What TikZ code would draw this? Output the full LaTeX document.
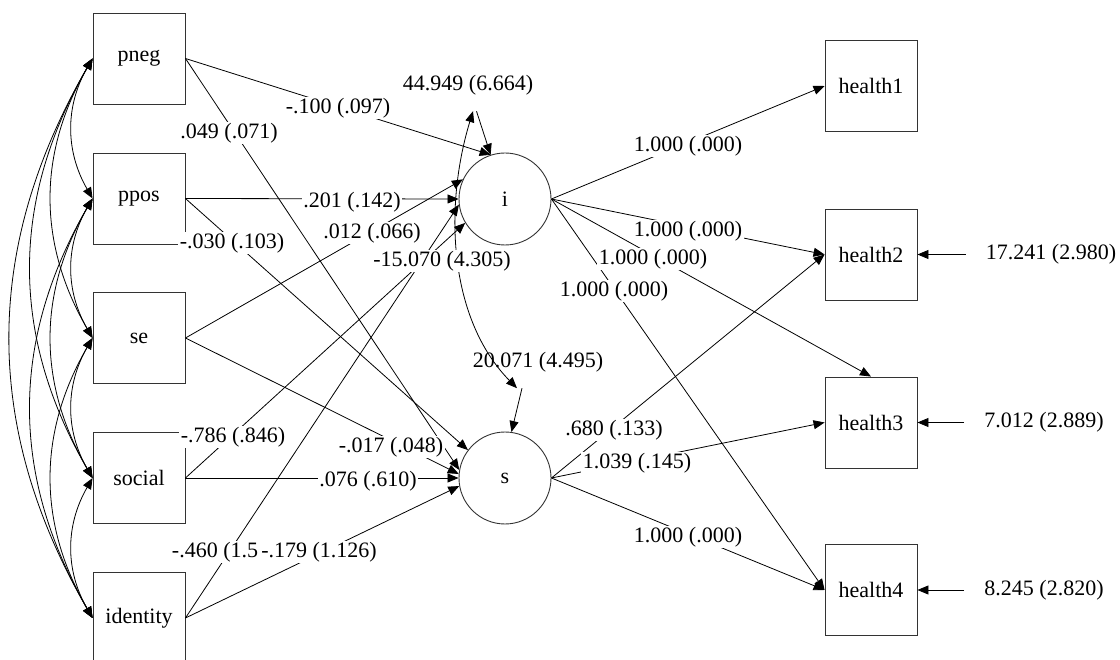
\documentclass[tikz,border=0pt]{standalone}
\usepackage{fontspec}
\setmainfont{Liberation Serif}
\usetikzlibrary{arrows.meta}
\begin{document}
\begin{tikzpicture}[x=1pt,y=-1pt,
  every node/.style={font=\fontsize{22}{26}\selectfont},
  obs/.style={draw=black!80,line width=0.9pt,minimum width=92pt,minimum height=91pt,inner sep=0pt},
  lat/.style={circle,draw=black!80,line width=0.9pt,minimum size=92pt,inner sep=0pt},
  lab/.style={fill=white,inner sep=1.5pt},
  vlab/.style={inner xsep=20pt,inner ysep=0pt,minimum height=52pt},
  pth/.style={line width=0.8pt,-{Triangle[length=11pt,width=9pt]}},
  cov/.style={line width=0.8pt,{Triangle[length=11pt,width=9pt]}-{Triangle[length=11pt,width=9pt]}}
]
\useasboundingbox (0,0) rectangle (1120,660);

% observed predictors
\node[obs] (pneg) at (139,58.5) {pneg};
\node[obs] (ppos) at (139,198.5) {ppos};
\node[obs] (se) at (139,338) {se};
\node[obs] (social) at (139,478) {social};
\node[obs] (identity) at (139,618) {identity};

% latent growth factors
\node[lat] (i) at (505,199) {i};
\node[lat] (s) at (505,478) {s};

% outcomes
\node[obs] (health1) at (871,86) {health1};
\node[obs] (health2) at (871,254.5) {health2};
\node[obs] (health3) at (871,422.5) {health3};
\node[obs] (health4) at (871,590) {health4};

% variance labels
\node[vlab] (vi) at (468,85) {44.949 (6.664)};
\node[vlab] (vs) at (538,362) {20.071 (4.495)};
\node[vlab] (r2) at (1051,254.5) {17.241 (2.980)};
\node[vlab] (r3) at (1044,422.5) {7.012 (2.889)};
\node[vlab] (r4) at (1044,590) {8.245 (2.820)};

% covariances among predictors
\draw[cov] (pneg.west) .. controls +(-27.4,47.5) and +(-27.4,-47.5) .. (ppos.west);
\draw[cov] (ppos.west) .. controls +(-27.4,47.5) and +(-27.4,-47.5) .. (se.west);
\draw[cov] (se.west) .. controls +(-27.4,47.5) and +(-27.4,-47.5) .. (social.west);
\draw[cov] (social.west) .. controls +(-27.4,47.5) and +(-27.4,-47.5) .. (identity.west);
\draw[cov] (pneg.west) .. controls +(-54.9,94.9) and +(-54.9,-94.9) .. (se.west);
\draw[cov] (ppos.west) .. controls +(-54.9,94.9) and +(-54.9,-94.9) .. (social.west);
\draw[cov] (se.west) .. controls +(-54.9,94.9) and +(-54.9,-94.9) .. (identity.west);
\draw[cov] (pneg.west) .. controls +(-82.3,142.4) and +(-82.3,-142.4) .. (social.west);
\draw[cov] (ppos.west) .. controls +(-82.3,142.4) and +(-82.3,-142.4) .. (identity.west);
\draw[cov] (pneg.west) .. controls +(-109.8,189.8) and +(-109.8,-189.8) .. (identity.west);

% regressions on i
\draw[pth] (pneg.east) -- (i.108);
\draw[pth] (ppos.east) -- (i.west);
\draw[pth] (se.east) -- (i.155);
\draw[pth] (social.east) -- (i.211);
\draw[pth] (identity.east) -- (i.187);
% regressions on s
\draw[pth] (pneg.east) -- (s.170);
\draw[pth] (ppos.east) -- (s.143);
\draw[pth] (se.east) -- (s.175);
\draw[pth] (social.east) -- (s.west);
\draw[pth] (identity.east) -- (s.190);

% variances of i and s, covariance
\draw[pth] (vi) -- (i.108);
\draw[pth] ([xshift=-16pt]vs.south) -- (s.82);
\draw[cov] ([xshift=5pt]vi.south) .. controls (443,210) and (450,320) .. ([xshift=-21pt]vs.south);

% loadings
\draw[pth] (i.east) -- (health1.west);
\draw[pth] (i.east) -- (health2.west);
\draw[pth] (i.east) -- (health3.north);
\draw[pth] (i.east) -- (health4.west);
\draw[pth] (s.east) -- (health2.west);
\draw[pth] (s.east) -- (health3.west);
\draw[pth] (s.east) -- (health4.west);

% residual variances
\draw[pth] (r2) -- (health2.east);
\draw[pth] (r3) -- (health3.east);
\draw[pth] (r4) -- (health4.east);

% labels
\node[lab] (l1) at (338,108) {-.100 (.097)};
\node[lab] (l2) at (229,133) {.049 (.071)};
\node[lab] (l3) at (352,202) {.201 (.142)};
\node[lab] (l4) at (232,243) {-.030 (.103)};
\node[lab] (l5) at (372,233) {.012 (.066)};
\node[lab] (l6) at (442,261) {-15.070 (4.305)};
\node[lab] (l7) at (233,437) {-.786 (.846)};
\node[lab] (l8) at (391,447) {-.017 (.048)};
\node[lab] (l9) at (368,481) {.076 (.610)};
\node[lab] (l10) at (215,552) {-.460 (1.5};
\node[lab] (l11) at (319,552) {-.179 (1.126)};
\node[lab] (l12) at (688,146) {1.000 (.000)};
\node[lab] (l13) at (688,231) {1.000 (.000)};
\node[lab] (l14) at (653,259) {1.000 (.000)};
\node[lab] (l15) at (614,291) {1.000 (.000)};
\node[lab] (l16) at (614,430) {.680 (.133)};
\node[lab] (l17) at (637,463) {1.039 (.145)};
\node[lab] (l18) at (688,537) {1.000 (.000)};
\end{tikzpicture}
\end{document}
